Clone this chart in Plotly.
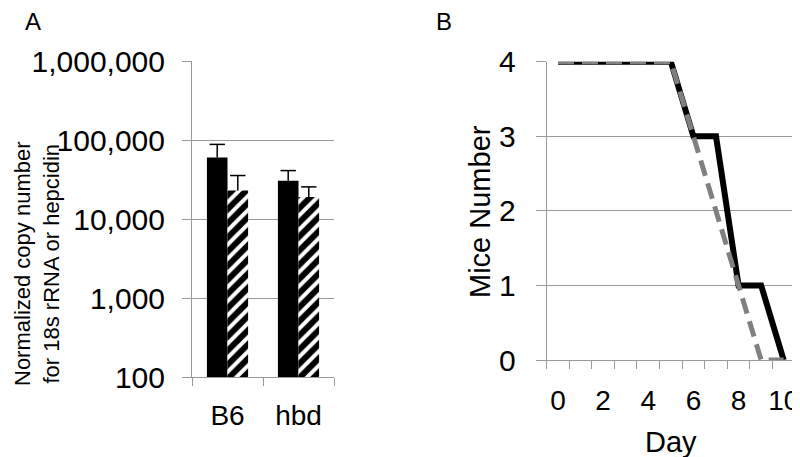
import plotly.graph_objects as go

# Panel A: copy number (log scale)
groups = ['B6', 'hbd']
solid_vals = [60000, 30500]
solid_err = [28000, 10500]
hatch_vals = [23000, 19000]
hatch_err = [12500, 6500]
log_ticks = [100, 1000, 10000, 100000, 1000000]
log_ticktext = ['100', '1,000', '10,000', '100,000', '1,000,000']

# Panel B: survival
days = [0, 1, 2, 3, 4, 5, 6, 7, 8, 9, 10]
mice_black = [4, 4, 4, 4, 4, 4, 3, 3, 1, 1, 0]
mice_gray = [4, 4, 4, 4, 4, 4, 3, 2, 1, 0, 0]
day_ticks = [0, 2, 4, 6, 8, 10]

FONT = 'Liberation Sans, Arial, sans-serif'
GRID = '#9a9a9a'
W, H = 800, 457
OFF = 8       # page body margin; positions below are measured on the page
BAR_W = 0.29  # bar width in category units


def px_x(x):
    return (x - OFF) / W


def px_y(y):
    return 1 - (y - OFF) / H


idx = list(range(len(groups)))
fig = go.Figure()

# solid bars left of the category centre, hatched bars right of it
for vals, errs, side, marker in [
    (solid_vals, solid_err, -1, dict(color='black', line=dict(width=0))),
    (hatch_vals, hatch_err, 1, dict(color='white', line=dict(width=0),
                                    pattern=dict(shape='/', fgcolor='black', bgcolor='white',
                                                 fgopacity=1, size=10, solidity=0.6))),
]:
    fig.add_trace(go.Bar(
        x=idx, y=vals, width=BAR_W, offset=-BAR_W if side < 0 else 0,
        marker=marker,
        error_y=dict(type='data', array=errs, arrayminus=[0] * len(errs), symmetric=False,
                     color='black', thickness=1.5, width=0),
        xaxis='x', yaxis='y', showlegend=False
    ))
    # error bar caps
    fig.add_trace(go.Scatter(
        x=[i + side * BAR_W / 2 for i in idx],
        y=[v + e for v, e in zip(vals, errs)],
        mode='markers',
        marker=dict(symbol='line-ew', size=11, line=dict(color='black', width=1.5)),
        xaxis='x', yaxis='y', showlegend=False, cliponaxis=False
    ))

fig.add_trace(go.Scatter(
    x=days, y=mice_black, mode='lines',
    line=dict(color='black', width=6),
    xaxis='x2', yaxis='y2', showlegend=False, cliponaxis=False
))
fig.add_trace(go.Scatter(
    x=days, y=mice_gray, mode='lines',
    line=dict(color='#808080', width=5, dash='16px,8px'),
    xaxis='x2', yaxis='y2', showlegend=False, cliponaxis=False
))

ann = dict(xref='paper', yref='paper', showarrow=False, xanchor='center', yanchor='middle')

fig.update_layout(
    width=W, height=H,
    margin=dict(l=0, r=0, t=0, b=0),
    paper_bgcolor='white', plot_bgcolor='white',
    font=dict(family=FONT, color='black'),
    xaxis=dict(
        domain=[px_x(192), px_x(334)], anchor='y', automargin=False,
        range=[-0.5, len(groups) - 0.5], tickvals=idx, ticktext=groups, ticks='',
        minor=dict(tick0=-0.5, dtick=1, ticks='outside', ticklen=8,
                   tickcolor=GRID, showgrid=False),
        showline=True, linecolor=GRID, linewidth=1, zeroline=False,
        showgrid=False, tickfont=dict(size=28), ticklabelstandoff=13
    ),
    yaxis=dict(
        domain=[px_y(377), px_y(61)], anchor='x', automargin=False,
        type='log', range=[2, 6], tickvals=log_ticks, ticktext=log_ticktext,
        ticks='outside', ticklen=9, tickcolor=GRID,
        showline=True, linecolor=GRID, linewidth=1,
        showgrid=True, gridcolor=GRID, gridwidth=1,
        tickfont=dict(size=30), ticklabelstandoff=11, zeroline=False
    ),
    xaxis2=dict(
        domain=[px_x(546.7), px_x(795)], anchor='y2', automargin=False,
        range=[-0.5, 10.5], tickvals=day_ticks, ticks='',
        minor=dict(tick0=-0.5, dtick=1, ticks='outside', ticklen=8,
                   tickcolor=GRID, showgrid=False),
        showline=True, linecolor=GRID, linewidth=1,
        showgrid=False, zeroline=False, tickfont=dict(size=28),
        ticklabelstandoff=15
    ),
    yaxis2=dict(
        domain=[px_y(360), px_y(61.7)], anchor='x2', automargin=False,
        range=[0, 4], tickvals=[0, 1, 2, 3, 4],
        ticks='outside', ticklen=10, tickcolor=GRID,
        showline=True, linecolor=GRID, linewidth=1,
        showgrid=True, gridcolor=GRID, gridwidth=1, zeroline=False,
        tickfont=dict(size=30), ticklabelstandoff=14
    ),
    annotations=[
        dict(text='A', x=px_x(33), y=px_y(22), font=dict(size=24), **ann),
        dict(text='B', x=px_x(444), y=px_y(22), font=dict(size=24), **ann),
        dict(text='Normalized copy number<br>for 18s rRNA or hepcidin',
             x=px_x(37), y=px_y(264), textangle=-90, font=dict(size=22), **ann),
        dict(text='Mice Number', x=px_x(480), y=px_y(212), textangle=-90,
             font=dict(size=29), **ann),
        dict(text='Day', x=px_x(671), y=px_y(442), font=dict(size=29), **ann),
    ]
)

fig.write_html("out.html")
